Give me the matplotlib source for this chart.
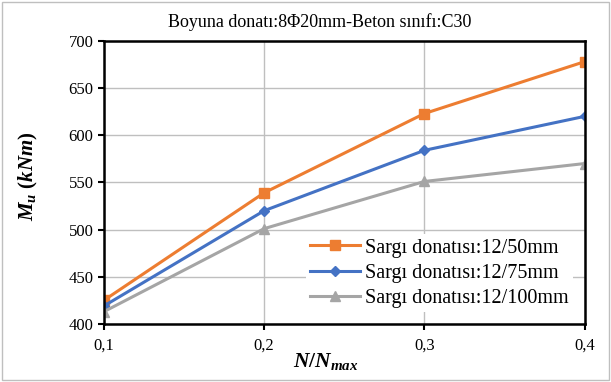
import matplotlib.pyplot as plt
from matplotlib.patches import Rectangle
from matplotlib.ticker import FuncFormatter

plt.rcParams['font.family'] = ['Liberation Serif', 'DejaVu Serif']
plt.rcParams['mathtext.fontset'] = 'custom'
plt.rcParams['mathtext.it'] = 'Liberation Serif:italic:bold'
plt.rcParams['mathtext.rm'] = 'Liberation Serif:bold'

# veriler
n_oran = [0.1, 0.2, 0.3, 0.4]
m_50 = [425, 539, 623, 678]
m_75 = [419, 520, 584, 620]
m_100 = [413, 501, 551, 570]
etiketler = ['Sargı donatısı:12/50mm', 'Sargı donatısı:12/75mm', 'Sargı donatısı:12/100mm']
baslik = 'Boyuna donatı:8Φ20mm-Beton sınıfı:C30'

fig = plt.figure(figsize=(6.11, 3.82), dpi=100)
ax = fig.add_axes([0.170, 0.152, 0.787, 0.741])

ax.plot(n_oran, m_50, color='#ED7D31', marker='s', markersize=6.5, lw=2.2, label=etiketler[0])
ax.plot(n_oran, m_75, color='#4472C4', marker='D', markersize=5.5, lw=2.2, label=etiketler[1])
ax.plot(n_oran, m_100, color='#A5A5A5', marker='^', markersize=7.5, lw=2.2, label=etiketler[2])

ax.set_xlim(0.1, 0.4)
ax.set_ylim(400, 700)
ax.set_xticks([0.1, 0.2, 0.3, 0.4])
ax.set_yticks(range(400, 701, 50))
ax.xaxis.set_major_formatter(FuncFormatter(lambda v, p: f'{v:.1f}'.replace('.', ',')))
ax.tick_params(labelsize=12, direction='out', length=4, width=1.5, color='black')
ax.tick_params(axis='x', pad=6)
ax.grid(True, color='#BFBFBF', lw=1)
ax.set_axisbelow(True)
for s in ax.spines.values():
    s.set_linewidth(1.8)
    s.set_color('black')

ax.set_xlabel(r'$N/N_{max}$', fontsize=15.5)
ax.xaxis.set_label_coords(0.462, -0.095)
ax.set_ylabel(r'$M_u\ (kNm)$', fontsize=15)
ax.yaxis.set_label_coords(-0.133, 0.523)

leg = ax.legend(loc='lower right', fontsize=14.5, frameon=True, fancybox=False,
                edgecolor='none', facecolor='white', framealpha=1, borderaxespad=0.6,
                handlelength=2.5, handletextpad=0.25, labelspacing=0.3,
                borderpad=0.2)

fig.text(0.524, 0.942, baslik, fontsize=13, ha='center', va='center')

fig.patches.append(Rectangle((0.004, 0.006), 0.992, 0.988, transform=fig.transFigure,
                             fill=False, edgecolor='#BFBFBF', lw=1))

fig.savefig('out.png', dpi=100)
